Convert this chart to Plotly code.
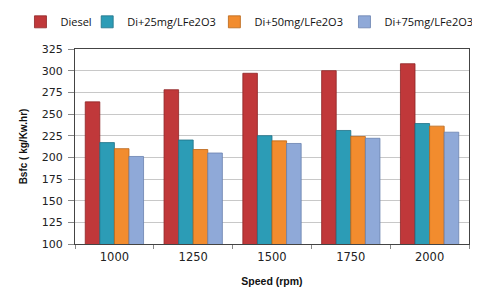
import plotly.graph_objects as go

speeds = ["1000", "1250", "1500", "1750", "2000"]
diesel = [264, 278, 297, 300, 308]
fe25 = [217, 220, 225, 231, 239]
fe50 = [210, 209, 219, 224, 236]
fe75 = [201, 205, 216, 222, 229]
yticks = [100, 125, 150, 175, 200, 225, 250, 275, 300, 325]

series = [
    ("Diesel", diesel, "#C0383A", "#8E2426", "legend", 0.026),
    ("Di+25mg/LFe2O3", fe25, "#2C9CB6", "#1E7186", "legend2", 0.165),
    ("Di+50mg/LFe2O3", fe50, "#F28C2E", "#B86418", "legend3", 0.43),
    ("Di+75mg/LFe2O3", fe75, "#8FA9D8", "#6A82AE", "legend4", 0.701),
]

fig = go.Figure()
legends = {}
for name, vals, col, edge, lg, lx in series:
    fig.add_trace(go.Bar(
        x=speeds, y=vals, name=name, legend=lg,
        marker=dict(color=col, line=dict(color=edge, width=0.8)),
    ))
    legends[lg] = dict(orientation="h", xref="container", yref="container",
                       x=lx, xanchor="left", y=0.952, yanchor="middle",
                       font=dict(family="Open Sans", size=11, color="#111"),
                       itemwidth=30, bgcolor="rgba(0,0,0,0)")

fig.update_layout(
    width=480, height=288,
    margin=dict(l=67, r=19, t=41, b=52, autoexpand=False),
    paper_bgcolor="white", plot_bgcolor="white",
    barmode="group", bargap=0.26, bargroupgap=0,
    font=dict(family="DejaVu Sans", size=11, color="#222"),
    showlegend=True,
    xaxis=dict(
        type="category", showgrid=False, showline=True, linecolor="#444", linewidth=1,
        mirror=True, ticks="outside", tickson="boundaries", ticklen=4, tickcolor="#888",
        tickfont=dict(size=11.5), ticklabelstandoff=2,
        title=dict(text="<b>Speed (rpm)</b>",
                   font=dict(family="Liberation Sans", size=10.5, color="#111"), standoff=14),
    ),
    yaxis=dict(
        range=[100, 325], tickvals=yticks, showgrid=True, gridcolor="#C8C8C8", gridwidth=1.2,
        showline=True, linecolor="#444", linewidth=1, mirror=True,
        ticks="outside", ticklen=6, tickcolor="#888", tickfont=dict(size=11),
        ticklabelstandoff=3,
        title=dict(text="<b>Bsfc ( kg/Kw.hr)</b>",
                   font=dict(family="Liberation Sans", size=10, color="#111"), standoff=12),
        zeroline=False,
    ),
    **legends,
)

fig.write_html("out.html")
